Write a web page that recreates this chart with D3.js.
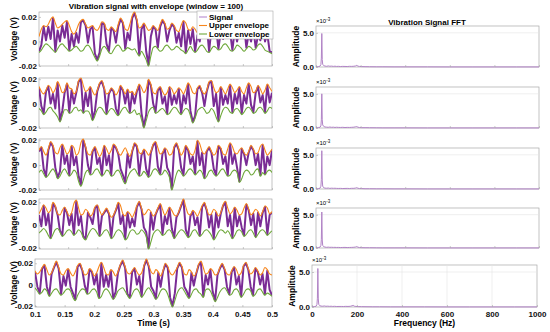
<!DOCTYPE html>
<html><head><meta charset="utf-8">
<script src="https://cdn.jsdelivr.net/npm/d3@7/dist/d3.min.js"></script>
<style>
body{margin:0;background:#fff}
svg{display:block;font-family:"Liberation Sans",Arial,sans-serif;font-weight:bold}
</style></head><body>
<svg id="chart" width="550" height="332"></svg>
<script>
// time window of the traces (s)
var tStart = 0.1, tEnd = 0.5;

// signal, upper and lower envelope (mV), 4 ms per sample
var sig1 = [-8,-3,12,1,12,2,19,-8,9,0, 13,3,16,-7,6,-4,7,-1,16,17, 13,-1,10,12,-10,-15,-9,15,14,-2, -8,11,9,-1,12,18,15,-6,7,1, 19,23,17,-11,10,14,-8,-19,4,12, 10,-5,12,17,14,0,9,14,12,-1, 7,-4,16,-9,9,-2,10,-8,5,0, 14,17,13,-8,10,14,11,-6,8,2, 16,3,8,-7,9,0,9,14,13,-5, 6,0,10,-5,5,1,13,0,6,-8, -9];
var up1 = [4,10,13,12,14,18,20,15,11,12, 14,16,17,13,8,6,9,14,17,18, 14,11,12,13,10,9,12,16,15,10, 9,12,10,8,14,19,16,10,9,14, 21,24,18,11,12,15,12,9,10,13, 11,9,14,18,15,10,11,15,13,9, 8,13,17,15,10,9,12,10,7,11, 16,18,14,10,12,15,12,8,10,14, 17,14,10,12,10,8,11,15,14,9, 8,10,12,10,7,10,14,12,8,9, 11];
var lo1 = [-9,-7,-4,-2,-3,-5,-7,-9,-6,-3, -2,-4,-6,-8,-7,-5,-4,-6,-8,-7, -4,-3,-5,-9,-13,-16,-12,-6,-4,-6, -9,-10,-7,-4,-3,-5,-8,-7,-5,-6, -7,-6,-9,-12,-8,-11,-15,-20,-12,-5, -4,-6,-8,-7,-4,-3,-5,-7,-6,-4, -5,-7,-8,-10,-7,-4,-7,-9,-7,-4, -3,-5,-8,-9,-6,-4,-5,-7,-6,-3, -2,-4,-7,-8,-6,-3,-4,-6,-8,-6, -4,-5,-7,-6,-3,-2,-4,-7,-8,-9, -10];

var sig2 = [13,-2,-8,10,14,0,8,-4,17,-14, -6,9,16,-7,11,0,9,18,20,-7, 9,-2,13,-13,-6,10,16,18,12,-8, 8,12,10,-4,-9,14,11,0,11,-7, 9,0,10,15,-8,-19,-9,19,15,0, -7,11,13,0,6,-8,13,-1,7,0, 12,-8,7,0,16,-6,-15,-10,12,14, 9,-2,10,17,18,-2,8,-14,13,-1, 7,0,15,-7,8,0,13,-8,7,0, 16,-1,-7,9,14,1,7,-7,15,1, 9];
var up2 = [14,10,8,11,15,13,9,12,18,14, 9,10,17,13,12,8,10,19,21,15, 10,11,14,10,7,11,17,19,13,8, 9,13,11,7,10,15,12,8,12,9, 10,7,11,16,13,9,12,20,16,9, 8,12,14,10,7,9,14,12,8,10, 13,11,8,12,17,14,9,8,13,15, 10,8,11,18,19,13,9,10,14,11, 8,12,16,13,9,11,14,10,8,13, 17,14,9,10,15,12,8,11,16,13, 10];
var lo2 = [-4,-6,-9,-7,-4,-3,-6,-8,-11,-15, -10,-5,-5,-8,-7,-4,-3,-6,-5,-8, -6,-6,-9,-14,-10,-5,-3,-4,-7,-9, -6,-4,-5,-8,-10,-7,-4,-3,-6,-8, -7,-5,-9,-8,-13,-20,-14,-7,-4,-3, -8,-7,-5,-4,-6,-9,-8,-5,-3,-4, -7,-9,-6,-4,-5,-10,-16,-12,-6,-4, -3,-5,-8,-7,-4,-6,-11,-15,-10,-5, -3,-4,-7,-8,-5,-4,-6,-9,-7,-4, -3,-5,-8,-7,-4,-3,-5,-8,-6,-3, -4];

var sig3 = [11,14,-3,-9,12,18,15,-2,-10,-5, 16,1,8,-8,15,0,7,-9,-16,20, 14,0,-7,11,14,1,6,-8,15,0, 8,-8,16,14,9,-3,-8,-14,9,-2, 11,17,15,-8,8,12,-3,-9,10,16, 18,-1,-7,9,13,-2,-6,-19,14,17, 12,-2,-8,15,12,1,7,-7,19,0, 10,-10,11,14,10,-3,-8,15,13,1, 7,-8,17,1,9,-2,-13,13,9,0, 10,15,12,0,9,-8,16,-7,7,0, 12];
var up3 = [12,15,11,8,13,19,16,10,9,14, 17,13,9,11,16,14,8,10,18,21, 15,9,8,12,15,11,7,10,16,13, 9,12,17,15,10,8,11,14,10,7, 12,18,16,10,9,13,11,8,11,17, 19,14,9,10,14,12,8,9,15,18, 13,8,11,16,13,9,8,12,20,17, 11,9,12,15,11,8,10,16,14,9, 8,13,18,15,10,9,12,14,10,8, 11,16,13,9,10,15,17,12,8,10, 13];
var lo3 = [-6,-4,-7,-10,-8,-5,-3,-6,-11,-9, -5,-3,-6,-9,-7,-4,-6,-13,-17,-12, -6,-4,-8,-7,-4,-3,-6,-9,-7,-4, -5,-9,-8,-5,-4,-7,-12,-15,-10,-6, -4,-3,-6,-9,-8,-5,-7,-10,-8,-4, -3,-5,-8,-7,-4,-6,-10,-20,-14,-7, -4,-6,-9,-7,-4,-3,-5,-8,-6,-4, -6,-11,-9,-5,-4,-7,-9,-7,-4,-3, -6,-9,-8,-5,-4,-6,-14,-11,-6,-4, -5,-8,-7,-4,-3,-9,-6,-8,-5,-4, -6];

var sig4 = [9,-1,17,0,10,-11,19,16,9,-5, -9,15,11,0,10,-8,21,0,8,-10, -12,11,7,1,15,17,-9,8,11,14, 10,-11,8,13,19,1,9,-12,11,-2, 6,-1,16,20,14,-2,-6,-20,11,-4, 9,14,18,-8,8,1,15,-3,-11,7, 11,17,22,-4,-10,8,12,0,7,-9, 16,19,13,-2,9,-12,11,-2,10,17, 20,-1,9,-11,15,-1,8,-2,-9,18, 13,0,10,-10,11,-1,11,16,-8,9, 11];
var up4 = [10,14,18,15,11,13,20,17,10,9, 13,16,12,8,11,19,22,15,9,10, 14,12,8,10,16,18,13,9,12,15, 11,7,9,14,20,17,10,8,12,10, 7,11,17,21,15,9,11,14,12,8, 10,15,19,14,9,12,16,13,9,8, 12,18,23,16,10,9,13,11,8,12, 17,20,14,9,10,14,12,8,11,18, 21,15,10,12,16,13,9,10,15,19, 14,9,11,14,12,8,12,17,15,10, 12];
var lo4 = [-7,-5,-3,-5,-9,-12,-8,-4,-3,-6, -10,-8,-5,-4,-6,-9,-7,-4,-6,-11, -13,-9,-5,-3,-4,-7,-10,-8,-5,-4, -7,-12,-10,-6,-4,-5,-8,-13,-11,-6, -4,-5,-8,-7,-4,-6,-10,-21,-15,-8, -5,-4,-6,-9,-8,-5,-4,-7,-12,-9, -6,-4,-5,-8,-11,-9,-5,-4,-7,-10, -8,-5,-4,-6,-9,-13,-10,-6,-4,-5, -7,-5,-8,-12,-9,-5,-4,-6,-10,-8, -5,-4,-7,-11,-8,-5,-4,-6,-9,-7, -5];

var sig5 = [12,-2,-8,15,18,-2,-10,10,16,21, 15,-9,8,-1,14,-2,-8,-14,17,19, 13,-1,-8,14,12,0,10,-12,20,-2, 9,-2,13,-13,-7,11,18,22,16,-9, -12,12,15,0,8,-11,17,23,17,-2, -6,-13,11,-2,12,19,16,-12,-20,-8, 15,20,16,-2,-6,-12,11,-1,10,18, 21,-11,9,0,14,-7,-15,9,15,19, 14,-2,-9,12,16,0,8,-11,17,20, 14,-2,-10,15,12,0,10,-9,13,-5, -10];
var up5 = [13,10,12,16,19,14,9,11,17,22, 16,10,9,13,15,11,8,12,18,20, 14,9,10,15,13,8,11,17,21,16, 10,9,14,12,8,12,19,23,17,11, 10,13,16,12,9,11,18,24,18,12, 10,14,12,8,13,20,17,11,9,12, 16,21,17,10,9,14,12,8,11,19, 22,16,10,11,15,13,9,10,16,20, 15,10,9,13,17,14,9,11,18,21, 15,10,12,16,13,9,11,16,14,10, 9];
var lo5 = [-3,-6,-9,-7,-4,-6,-11,-8,-5,-4, -7,-10,-8,-5,-4,-6,-12,-15,-10,-6, -4,-5,-9,-8,-5,-4,-7,-13,-11,-6, -4,-6,-10,-14,-11,-6,-4,-3,-6,-10, -13,-9,-5,-4,-7,-12,-9,-5,-3,-6, -10,-14,-11,-6,-4,-5,-9,-16,-21,-15, -8,-4,-3,-6,-10,-13,-9,-5,-4,-7, -9,-12,-5,-4,-6,-11,-16,-12,-7,-4, -3,-6,-10,-9,-5,-4,-7,-12,-9,-5, -4,-6,-11,-9,-5,-4,-7,-10,-8,-9, -11];

var timeTicks = [0.1,0.15,0.2,0.25,0.3,0.35,0.4,0.45,0.5];
var voltTicks = [-0.02,0,0.02];

// single sided spectrum, amplitude in units of 1e-3
var fftFreq = [0,6,12,18,22,24,26,28,30,34,40,48,55,62,70,78,85,92,100,110,120,130,140,150,160,170,178,183,188,195,205,220,240,270,300,350,400,500,600,700,800,900,1000];
var fft1 = [0.06,0.05,0.07,0.12,0.35,1.3,4.9,1.1,0.4,0.22,0.14,0.1,0.16,0.11,0.13,0.09,0.12,0.08,0.1,0.07,0.09,0.08,0.07,0.1,0.09,0.11,0.16,0.24,0.13,0.08,0.06,0.05,0.04,0.03,0.03,0.02,0.02,0.02,0.01,0.01,0.01,0.01,0.01];
var fft2 = [0.05,0.06,0.08,0.1,0.3,1.2,5.0,1.2,0.45,0.25,0.15,0.12,0.1,0.14,0.1,0.12,0.08,0.11,0.09,0.08,0.1,0.07,0.09,0.08,0.1,0.12,0.18,0.2,0.12,0.07,0.05,0.05,0.04,0.03,0.02,0.02,0.02,0.01,0.01,0.01,0.01,0.01,0.01];
var fft3 = [0.06,0.05,0.07,0.11,0.4,1.4,5.6,1.3,0.42,0.2,0.13,0.11,0.14,0.09,0.12,0.1,0.11,0.09,0.08,0.09,0.07,0.08,0.09,0.07,0.1,0.1,0.14,0.19,0.11,0.07,0.06,0.04,0.04,0.03,0.03,0.02,0.02,0.01,0.01,0.01,0.01,0.01,0.01];
var fft4 = [0.05,0.05,0.08,0.12,0.38,1.3,5.4,1.2,0.4,0.21,0.14,0.1,0.13,0.1,0.11,0.09,0.1,0.08,0.09,0.07,0.08,0.09,0.07,0.08,0.09,0.11,0.15,0.21,0.12,0.07,0.05,0.04,0.04,0.03,0.02,0.02,0.02,0.01,0.01,0.01,0.01,0.01,0.01];
var fft5 = [0.06,0.06,0.07,0.1,0.36,1.25,5.5,1.15,0.38,0.2,0.13,0.11,0.15,0.1,0.12,0.09,0.11,0.08,0.1,0.07,0.08,0.08,0.07,0.09,0.08,0.1,0.17,0.23,0.12,0.08,0.06,0.05,0.04,0.03,0.03,0.02,0.02,0.02,0.01,0.01,0.01,0.01,0.01];

var freqTicks = [0,200,400,600,800,1000];
var ampTicks = [0,5];
var ampMax = 6;

var legendNames = ["Signal","Upper envelope","Lower envelope"];

var colSig = "#7a2c95", colUp = "#f7861c", colLo = "#6ea83a", colFft = "#b183c6";
var boxCol = "#a8a8a8";

// axes boxes: [left, right, top, bottom]
var leftBoxes = [[39,272,12,66],[39,272,78,128],[39,272,139,190],[39,272,199,249],[35,272,259,307]];
var rightBoxes = [[316,539,26,67],[316,539,87,128],[316,539,148,189],[316,539,208,248],[312,537,265,307]];

var traces = [[sig1,up1,lo1],[sig2,up2,lo2],[sig3,up3,lo3],[sig4,up4,lo4],[sig5,up5,lo5]];
var spectra = [fft1,fft2,fft3,fft4,fft5];

var svg = d3.select("#chart");
svg.append("rect").attr("width",550).attr("height",332).attr("fill","#fff");
var defs = svg.append("defs");

function styleAxis(g){
    g.select(".domain").remove();
    g.selectAll(".tick line").attr("stroke",boxCol).attr("stroke-width",0.6);
    g.selectAll(".tick text").attr("fill","#111").style("font-weight","bold");
}

traces.forEach(function(tr,k){
    var b = leftBoxes[k], last = k === traces.length-1;
    var all = tr[0].concat(tr[1],tr[2]).map(function(v){ return v/1000; });
    var x = d3.scaleLinear().domain([tStart,tEnd]).range([b[0],b[1]]);
    var y = d3.scaleLinear().domain(d3.extent(all)).range([b[3],b[2]]);

    defs.append("clipPath").attr("id","cl"+k).append("rect")
        .attr("x",b[0]).attr("y",b[2]-1).attr("width",b[1]-b[0]).attr("height",b[3]-b[2]+2);

    var g = svg.append("g");
    g.append("rect").attr("x",b[0]).attr("y",b[2]).attr("width",b[1]-b[0]).attr("height",b[3]-b[2])
        .attr("fill","#fff").attr("stroke",boxCol).attr("stroke-width",0.7);

    var plot = g.append("g").attr("clip-path","url(#cl"+k+")");
    [colSig,colUp,colLo].forEach(function(c,j){
        var vals = tr[j], n = vals.length;
        var line = d3.line()
            .curve(j===0 ? d3.curveLinear : d3.curveMonotoneX)
            .x(function(d,i){ return x(tStart + i*(tEnd-tStart)/(n-1)); })
            .y(function(d){ return y(d/1000); });
        plot.append("path").datum(vals).attr("d",line).attr("fill","none")
            .attr("stroke",c).attr("stroke-width", j===0 ? 2 : 1.1).attr("stroke-linejoin","round");
    });

    var ya = g.append("g").attr("transform","translate("+b[0]+",0)")
        .call(d3.axisLeft(y).tickValues(voltTicks).tickSize(-2).tickPadding(2)
            .tickFormat(function(v){ return v===0 ? "0" : v.toFixed(2); }));
    ya.selectAll("text").attr("font-size",8);
    styleAxis(ya);

    var xa = g.append("g").attr("transform","translate(0,"+b[3]+")")
        .call(d3.axisBottom(x).tickValues(timeTicks).tickSize(-2).tickPadding(4)
            .tickFormat(last ? function(v){ return String(+v.toFixed(2)); } : function(){ return ""; }));
    xa.selectAll("text").attr("font-size",8);
    styleAxis(xa);

    g.append("text").attr("transform","translate(14,"+((b[2]+b[3])/2)+") rotate(-90)")
        .attr("text-anchor","middle").attr("dy","0.35em").attr("font-size",8.5).text("Voltage (V)");

    if (last) {
        g.append("text").attr("x",(b[0]+b[1])/2).attr("y",326).attr("text-anchor","middle")
            .attr("font-size",8.5).text("Time (s)");
    }
});

svg.append("text").attr("x",156).attr("y",8.5).attr("text-anchor","middle")
    .attr("font-size",8).text("Vibration signal with envelope (window = 100)");

// legend
var lg = svg.append("g").attr("transform","translate(197,11)");
lg.append("rect").attr("width",76).attr("height",28).attr("fill","#fff").attr("stroke",boxCol).attr("stroke-width",0.6);
legendNames.forEach(function(name,i){
    var yy = 6 + i*8.5;
    lg.append("line").attr("x1",2).attr("x2",10).attr("y1",yy).attr("y2",yy)
        .attr("stroke",[ "#b68ad0",colUp,colLo][i]).attr("stroke-width",1.1);
    lg.append("text").attr("x",12).attr("y",yy).attr("dy","0.35em").attr("font-size",8).text(name);
});

spectra.forEach(function(amp,k){
    var b = rightBoxes[k], last = k === spectra.length-1;
    var x = d3.scaleLinear().domain([0,1000]).range([b[0],b[1]]);
    var y = d3.scaleLinear().domain([0,ampMax]).range([b[3],b[2]]);
    var g = svg.append("g");

    g.append("rect").attr("x",b[0]).attr("y",b[2]).attr("width",b[1]-b[0]).attr("height",b[3]-b[2])
        .attr("fill","#fff").attr("stroke",boxCol).attr("stroke-width",0.7);

    // grid
    g.selectAll(".hg").data(ampTicks.filter(function(v){ return v>0; })).enter().append("line")
        .attr("x1",b[0]).attr("x2",b[1]).attr("y1",function(d){ return y(d); }).attr("y2",function(d){ return y(d); })
        .attr("stroke","#e4e4e4").attr("stroke-width",0.6);
    if (last) {
        g.selectAll(".vg").data(freqTicks.slice(1,-1)).enter().append("line")
            .attr("y1",b[2]).attr("y2",b[3]).attr("x1",function(d){ return x(d); }).attr("x2",function(d){ return x(d); })
            .attr("stroke","#e4e4e4").attr("stroke-width",0.6);
    }

    var line = d3.line().x(function(d,i){ return x(fftFreq[i]); }).y(function(d){ return y(d); });
    g.append("path").datum(amp).attr("d",line).attr("fill","none").attr("stroke",colFft).attr("stroke-width",1);

    var ya = g.append("g").attr("transform","translate("+b[0]+",0)")
        .call(d3.axisLeft(y).tickValues(ampTicks).tickSize(-2).tickPadding(2));
    ya.selectAll("text").attr("font-size",8);
    styleAxis(ya);

    var xa = g.append("g").attr("transform","translate(0,"+b[3]+")")
        .call(d3.axisBottom(x).tickValues(freqTicks).tickSize(-2).tickPadding(4)
            .tickFormat(last ? d3.format("d") : function(){ return ""; }));
    xa.selectAll("text").attr("font-size",8);
    styleAxis(xa);

    var ex = g.append("text").attr("x",b[0]).attr("y",b[2]-3).attr("font-size",6).style("font-weight","normal");
    ex.append("tspan").text("\u00d710");
    ex.append("tspan").attr("dy",-2.5).attr("font-size",4.5).text("-3");

    g.append("text").attr("transform","translate("+(b[0]-20)+","+((b[2]+b[3])/2)+") rotate(-90)")
        .attr("text-anchor","middle").attr("dy","0.35em").attr("font-size",8.5).text("Amplitude");

    if (last) {
        g.append("text").attr("x",(b[0]+b[1])/2).attr("y",326).attr("text-anchor","middle")
            .attr("font-size",8.5).text("Frequency (Hz)");
    }
});

svg.append("text").attr("x",427).attr("y",24.5).attr("text-anchor","middle")
    .attr("font-size",8).text("Vibration Signal FFT");
</script>
</body></html>
